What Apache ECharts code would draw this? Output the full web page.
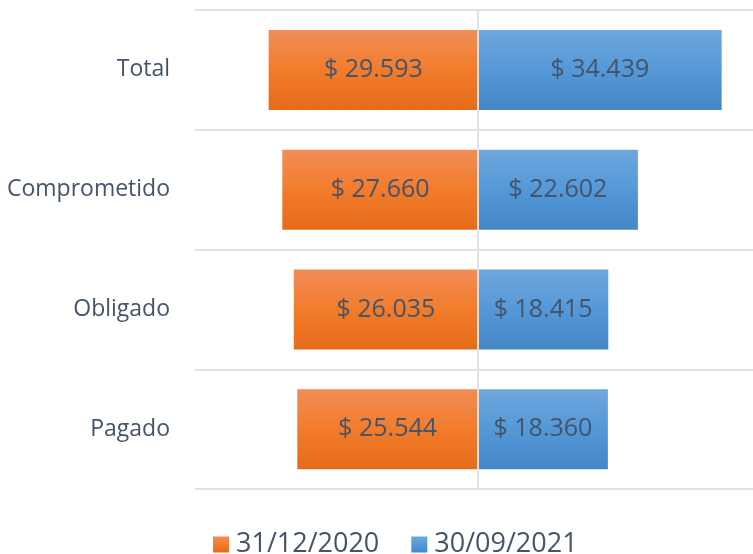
<!DOCTYPE html>
<html>
<head>
<meta charset="utf-8">
<script src="https://cdn.jsdelivr.net/npm/echarts@6/dist/echarts.min.js"></script>
<style>
  html, body { margin: 0; padding: 0; background: #fff; }
  #chart { width: 753px; height: 554px; }
</style>
</head>
<body>
<div id="chart"></div>
<script>
// datos
var categorias = ['Total', 'Comprometido', 'Obligado', 'Pagado'];
var serieNombres = ['31/12/2020', '30/09/2021'];
var valores2020 = [29593, 27660, 26035, 25544];
var valores2021 = [34439, 22602, 18415, 18360];

var textColor = '#44546A';
var fuente = '"Open Sans", "Noto Sans", sans-serif';

function pesos(v) {
    var n = Math.abs(v).toString().replace(/\B(?=(\d{3})+(?!\d))/g, '.');
    return '$ ' + n;
}

var naranja = new echarts.graphic.LinearGradient(0, 0, 0, 1, [
    { offset: 0, color: '#F18D57' },
    { offset: 0.5, color: '#F27C2C' },
    { offset: 1, color: '#E56B19' }
]);
var azul = new echarts.graphic.LinearGradient(0, 0, 0, 1, [
    { offset: 0, color: '#6EA7DD' },
    { offset: 0.5, color: '#5598D8' },
    { offset: 1, color: '#4487C8' }
]);

var chart = echarts.init(document.getElementById('chart'));
chart.setOption({
    animation: false,
    textStyle: { fontFamily: fuente },
    legend: {
        left: 208,
        bottom: -9,
        icon: 'rect',
        itemWidth: 16,
        itemHeight: 16,
        itemGap: 32,
        textStyle: { fontSize: 27, color: textColor, fontFamily: fuente, padding: [0, 0, 0, 2] },
        data: serieNombres
    },
    grid: {
        left: 195,
        right: 0,
        top: 10,
        bottom: 65
    },
    xAxis: {
        type: 'value',
        min: -40000,
        max: 38870,
        axisLabel: { show: false },
        axisLine: { show: false },
        axisTick: { show: false },
        splitLine: { show: false }
    },
    yAxis: {
        type: 'category',
        inverse: true,
        data: categorias,
        axisLine: { show: false, onZero: false },
        axisTick: { show: false },
        axisLabel: { fontSize: 23, color: textColor, margin: 25, fontFamily: fuente, padding: [4, 0, 0, 0] },
        splitLine: { show: true, lineStyle: { color: '#DEE3EA', width: 2 } }
    },
    series: [
        {
            name: serieNombres[0],
            type: 'bar',
            stack: 'a',
            barWidth: 80,
            itemStyle: { color: naranja },
            label: {
                show: true,
                position: 'inside',
                fontSize: 25,
                color: textColor,
                fontFamily: fuente,
                padding: [4, 0, 0, 0],
                formatter: function (p) { return pesos(p.value); }
            },
            data: valores2020.map(function (v) { return -v; }),
            markLine: {
                silent: true,
                symbol: 'none',
                label: { show: false },
                lineStyle: { color: '#DEE3EA', width: 2, type: 'solid' },
                data: [{ xAxis: 0 }]
            }
        },
        {
            name: serieNombres[1],
            type: 'bar',
            stack: 'a',
            barWidth: 80,
            itemStyle: { color: azul },
            label: {
                show: true,
                position: 'inside',
                fontSize: 25,
                color: textColor,
                fontFamily: fuente,
                padding: [4, 0, 0, 0],
                formatter: function (p) { return pesos(p.value); }
            },
            data: valores2021
        }
    ]
});
</script>
</body>
</html>
